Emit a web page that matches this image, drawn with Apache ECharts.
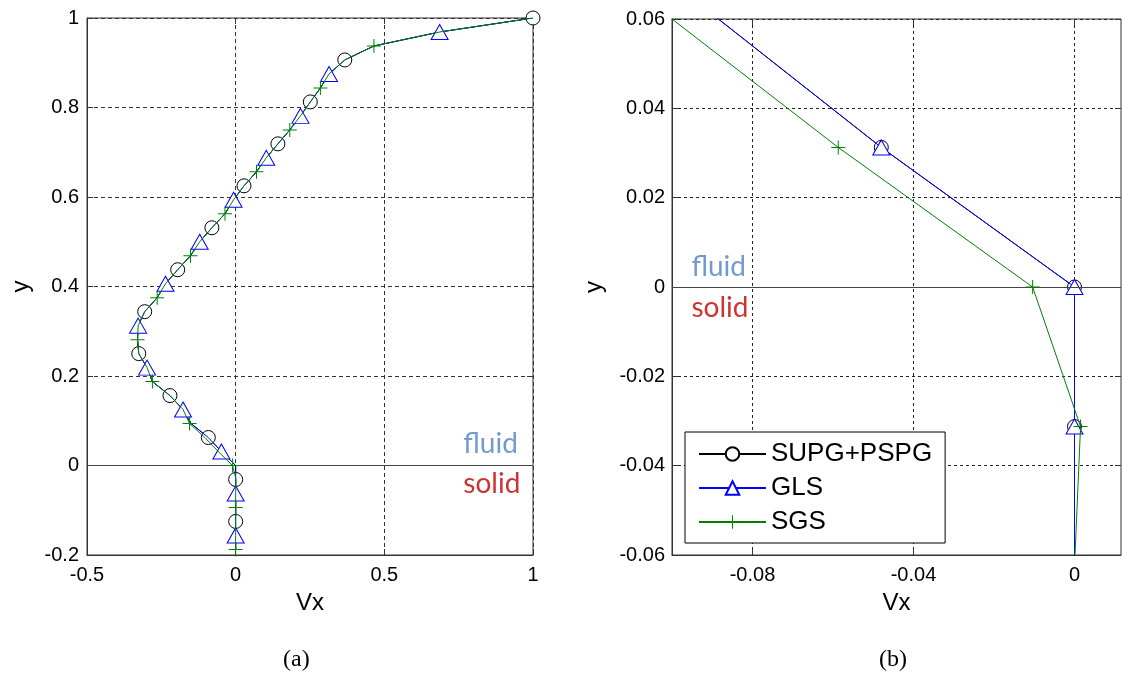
<!DOCTYPE html>
<html><head><meta charset="utf-8">
<script src="https://cdn.jsdelivr.net/npm/echarts@6/dist/echarts.min.js"></script>
<style>html,body{margin:0;padding:0;background:#fff}#c{width:1123px;height:687px}</style>
</head><body><div id="c"></div>
<script>
// y nodes of the profile (top to bottom)
const yNodes = [1, 0.96875, 0.9375, 0.90625, 0.875, 0.84375, 0.8125, 0.78125, 0.75, 0.71875,
  0.6875, 0.65625, 0.625, 0.59375, 0.5625, 0.53125, 0.5, 0.46875, 0.4375, 0.40625,
  0.375, 0.34375, 0.3125, 0.28125, 0.25, 0.21875, 0.1875, 0.15625, 0.125, 0.09375,
  0.0625, 0.03125, 0, -0.03125, -0.0625, -0.09375, -0.125, -0.15625, -0.1875];
const supgVx = [1.0, 0.686, 0.465, 0.367, 0.314, 0.285, 0.251, 0.218, 0.182, 0.142,
  0.103, 0.070, 0.028, -0.007, -0.036, -0.080, -0.121, -0.152, -0.195, -0.236,
  -0.264, -0.306, -0.328, -0.330, -0.326, -0.298, -0.280, -0.221, -0.177, -0.150,
  -0.092, -0.048, 0, 0, 0, 0, 0, 0, 0];
const glsVx = [1.0, 0.686, 0.465, 0.367, 0.314, 0.285, 0.251, 0.218, 0.182, 0.142,
  0.103, 0.070, 0.028, -0.007, -0.036, -0.080, -0.121, -0.152, -0.195, -0.236,
  -0.264, -0.306, -0.328, -0.330, -0.326, -0.298, -0.280, -0.221, -0.177, -0.150,
  -0.092, -0.048, 0, 0, 0, 0, 0, 0, 0];
const sgsVx = [1.0, 0.686, 0.465, 0.367, 0.314, 0.285, 0.251, 0.218, 0.182, 0.142,
  0.103, 0.070, 0.028, -0.007, -0.036, -0.080, -0.121, -0.152, -0.195, -0.236,
  -0.264, -0.306, -0.328, -0.330, -0.326, -0.298, -0.280, -0.221, -0.177, -0.155,
  -0.1036, -0.0587, -0.0104, 0.0015, 0, 0, 0, 0, 0];

const seriesNames = ['SUPG+PSPG', 'GLS', 'SGS'];
const xTicksA = [-0.5, 0, 0.5, 1];
const yTicksA = [-0.2, 0, 0.2, 0.4, 0.6, 0.8, 1];
const xTicksB = [-0.08, -0.04, 0];
const xRangeB = [-0.1, 0.01155];
const yTicksB = [-0.06, -0.04, -0.02, 0, 0.02, 0.04, 0.06];
const interfaceY = 0;
const notesA = [['fluid', 0.764, 0.048], ['solid', 0.764, -0.041]];
const notesB = [['fluid', -0.0953, 0.0044], ['solid', -0.0953, -0.0046]];

const plusPath = 'path://M6.5,0h1v6.5h6.5v1h-6.5v6.5h-1v-6.5h-6.5v-1h6.5z';
const styles = [
  { symbol: 'circle', size: 14, line: '#000000', item: { color: '#ffffff', borderColor: '#000000', borderWidth: 1 } },
  { symbol: 'triangle', size: [17, 15], line: '#0000ff', item: { color: '#ffffff', borderColor: '#0000ff', borderWidth: 1 } },
  { symbol: plusPath, size: 14, line: '#008000', item: { color: '#008000', borderWidth: 0 } }
];
const values = [supgVx, glsVx, sgsVx];

const fmt = v => String(Math.round(v * 10000) / 10000);
const tickFont = { fontFamily: 'Liberation Sans', fontSize: 20, color: '#000', formatter: fmt };
const nameFont = { fontFamily: 'Liberation Sans', fontSize: 24, color: '#000' };
const axisLine = { show: true, onZero: false, lineStyle: { color: '#333', width: 1 } };
const noLine = { show: false, onZero: false };
const tick = { show: true, inside: true, length: 6, lineStyle: { color: '#333' } };

function pairs(vx) { return vx.map((v, i) => [v, yNodes[i]]); }

const series = [];
values.forEach((vx, s) => {
  const st = styles[s];
  series.push({
    name: seriesNames[s], type: 'line', xAxisIndex: 0, yAxisIndex: 0, z: 3 + s,
    data: pairs(vx), symbol: st.symbol, showAllSymbol: true,
    symbolSize: (val, p) => (p.dataIndex % 3 === s ? st.size : 0),
    lineStyle: { color: st.line, width: 1 }, itemStyle: st.item,
    emphasis: { disabled: true },
    markLine: s === 0 ? { silent: true, symbol: ['none', 'none'], label: { show: false },
      lineStyle: { color: '#444', type: 'solid', width: 1 }, data: [{ yAxis: interfaceY }] } : undefined
  });
});
values.forEach((vx, s) => {
  const st = styles[s];
  series.push({
    name: seriesNames[s], type: 'line', xAxisIndex: 2, yAxisIndex: 2, z: 3 + s,
    data: pairs(vx), symbol: st.symbol, showAllSymbol: true, symbolSize: st.size,
    lineStyle: { color: st.line, width: 1 }, itemStyle: st.item,
    emphasis: { disabled: true },
    markLine: s === 0 ? { silent: true, symbol: ['none', 'none'], label: { show: false },
      lineStyle: { color: '#444', type: 'solid', width: 1 }, data: [{ yAxis: interfaceY }] } : undefined
  });
});
function noteSeries(notes, xi, yi) {
  return {
    type: 'scatter', xAxisIndex: xi, yAxisIndex: yi, symbolSize: 1, silent: true, z: 10,
    itemStyle: { color: 'rgba(0,0,0,0)' },
    data: notes.map(n => ({ value: [n[1], n[2]], name: n[0],
      label: { color: n[0] === 'fluid' ? '#4f81bd' : '#c00000' } })),
    label: { show: true, position: 'right', distance: 0, fontFamily: 'Lato', fontSize: 28,
      formatter: p => p.name }
  };
}
series.push(noteSeries(notesA, 0, 0), noteSeries(notesB, 2, 2));

const option = {
  animation: false,
  backgroundColor: '#fff',
  grid: [
    { left: 87, top: 18, width: 446, height: 537, show: true, borderColor: '#333', borderWidth: 1 },
    { left: 672, top: 19, width: 449, height: 536, show: true, borderColor: '#333', borderWidth: 1 }
  ],
  xAxis: [
    { gridIndex: 0, type: 'value', position: 'bottom', min: xTicksA[0], max: xTicksA[xTicksA.length - 1],
      interval: xTicksA[1] - xTicksA[0], axisLine, axisTick: tick,
      axisLabel: Object.assign({ margin: 10 }, tickFont),
      splitLine: { show: true, lineStyle: { color: '#333', type: [4, 3], width: 1 } },
      name: 'Vx', nameLocation: 'middle', nameGap: 36, nameTextStyle: nameFont },
    { gridIndex: 0, type: 'value', position: 'top', min: xTicksA[0], max: xTicksA[xTicksA.length - 1],
      interval: xTicksA[1] - xTicksA[0], axisLine: noLine, axisTick: tick,
      axisLabel: { show: false }, splitLine: { show: false } },
    { gridIndex: 1, type: 'value', position: 'bottom', min: xRangeB[0], max: xRangeB[1],
      axisLine, axisTick: Object.assign({ customValues: xTicksB }, tick),
      axisLabel: Object.assign({ margin: 10, customValues: xTicksB }, tickFont),
      splitLine: { show: true, lineStyle: { color: '#222', type: [3, 3], width: 1 } },
      name: 'Vx', nameLocation: 'middle', nameGap: 36, nameTextStyle: nameFont },
    { gridIndex: 1, type: 'value', position: 'top', min: xRangeB[0], max: xRangeB[1],
      axisLine: noLine, axisTick: Object.assign({ customValues: xTicksB }, tick),
      axisLabel: { show: false, customValues: xTicksB }, splitLine: { show: false } }
  ],
  yAxis: [
    { gridIndex: 0, type: 'value', position: 'left', min: yTicksA[0], max: yTicksA[yTicksA.length - 1],
      interval: yTicksA[1] - yTicksA[0], axisLine, axisTick: tick,
      axisLabel: Object.assign({ margin: 8 }, tickFont),
      splitLine: { show: true, lineStyle: { color: '#333', type: [4, 3], width: 1 } },
      name: 'y', nameLocation: 'middle', nameGap: 54, nameTextStyle: nameFont },
    { gridIndex: 0, type: 'value', position: 'right', min: yTicksA[0], max: yTicksA[yTicksA.length - 1],
      interval: yTicksA[1] - yTicksA[0], axisLine: noLine, axisTick: tick,
      axisLabel: { show: false }, splitLine: { show: false } },
    { gridIndex: 1, type: 'value', position: 'left', min: yTicksB[0], max: yTicksB[yTicksB.length - 1],
      interval: yTicksB[1] - yTicksB[0], axisLine, axisTick: tick,
      axisLabel: Object.assign({ margin: 7 }, tickFont),
      splitLine: { show: true, lineStyle: { color: '#222', type: [3, 3], width: 1 } },
      name: 'y', nameLocation: 'middle', nameGap: 66, nameTextStyle: nameFont },
    { gridIndex: 1, type: 'value', position: 'right', min: yTicksB[0], max: yTicksB[yTicksB.length - 1],
      interval: yTicksB[1] - yTicksB[0], axisLine: noLine, axisTick: tick,
      axisLabel: { show: false }, splitLine: { show: false } }
  ],
  legend: {
    data: seriesNames, orient: 'vertical', left: 685, top: 432,
    backgroundColor: '#fff', borderColor: '#000', borderWidth: 1,
    padding: [9, 13, 8, 13], itemWidth: 67, itemHeight: 17, itemGap: 8,
    textStyle: { fontFamily: 'Liberation Sans', fontSize: 26, color: '#000' },
    selectedMode: false
  },
  graphic: [
    { type: 'text', left: 283, top: 648, style: { text: '(a)', font: '24px "Liberation Serif"', fill: '#000' } },
    { type: 'text', left: 879, top: 648, style: { text: '(b)', font: '24px "Liberation Serif"', fill: '#000' } }
  ],
  series
};
const chart = echarts.init(document.getElementById('c'), null, { renderer: 'canvas' });
chart.setOption(option);
</script></body></html>
